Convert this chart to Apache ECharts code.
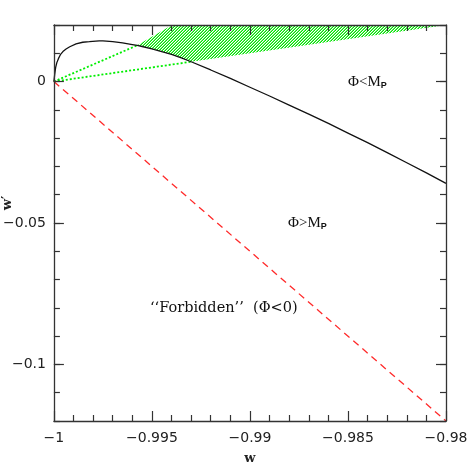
<!DOCTYPE html>
<html>
<head>
<meta charset="utf-8">
<script src="https://cdn.jsdelivr.net/npm/echarts@6/dist/echarts.min.js"></script>
<style>
  html, body { margin: 0; padding: 0; background: #fff; }
  #main { width: 471px; height: 471px; }
</style>
</head>
<body>
<div id="main"></div>
<script>
// w' vs w curve
const curveW = [-1, -0.99996, -0.99991, -0.99985, -0.99977, -0.99967, -0.99954, -0.99938, -0.99919, -0.99887,
  -0.99853, -0.99819, -0.99769, -0.9975, -0.997, -0.9965, -0.996, -0.99575, -0.9955, -0.995, -0.9945, -0.994,
  -0.9935, -0.993, -0.992, -0.991, -0.99, -0.989, -0.988, -0.987, -0.986, -0.985, -0.984, -0.983, -0.982, -0.981, -0.98]
const curveWp = [0, 0.0025, 0.005, 0.0067, 0.0081, 0.0095, 0.0106, 0.0115, 0.0123, 0.0133,
  0.0139, 0.0141, 0.0144, 0.0144, 0.0141, 0.0137, 0.0131, 0.0128, 0.0124, 0.0116, 0.0106, 0.0096,
  0.0084, 0.007, 0.0041, 0.0011, -0.002, -0.0051, -0.0083, -0.0115, -0.0148, -0.0182, -0.0216, -0.0251, -0.0287, -0.0323, -0.036]

// forbidden boundary (red dashed)
const redW = [-1, -0.98]
const redWp = [0, -0.12]

// green dotted lines from the origin
const dotLowW = [-1, -0.993]
const dotLowWp = [0, 0.007]
const dotHighW = [-1, -0.99575]
const dotHighWp = [0, 0.0128]

// hatched region outline
const hatchW = [-0.99575, -0.99397, -0.98, -0.993, -0.9935, -0.994, -0.9945, -0.995, -0.9955]
const hatchWp = [0.0128, 0.02, 0.02, 0.007, 0.0084, 0.0096, 0.0106, 0.0116, 0.0124]

// axis ticks
const xMin = -1, xMax = -0.98, xStep = 0.005
const yMin = -0.12, yMax = 0.02, yStep = 0.01
const yMajor = [0, -0.05, -0.1]

const pair = (a, b) => a.map((v, i) => [v, b[i]])

// hatch pattern
const pat = document.createElement('canvas')
pat.width = 3
pat.height = 3
const pctx = pat.getContext('2d')
for (let x = 0; x < 3; x++) {
  for (let y = 0; y < 3; y++) {
    const k = (x + y) % 3
    if (k === 2) { pctx.fillStyle = '#00e000'; pctx.fillRect(x, y, 1, 1) }
    if (k === 1) { pctx.fillStyle = '#70f070'; pctx.fillRect(x, y, 1, 1) }
  }
}

const fmt = v => {
  const n = Number(v.toFixed(4))
  return n === 0 ? '0' : String(n).replace('-', '\u2212')
}

const tickFont = { fontFamily: 'DejaVu Sans', fontSize: 14, color: '#222' }
const axisCol = '#333'

const xBase = {
  type: 'value', min: xMin, max: xMax, interval: xStep,
  axisLine: { show: true, onZero: false, lineStyle: { color: axisCol, width: 1.3 } },
  axisTick: { show: true, inside: true, length: 10, lineStyle: { color: axisCol, width: 1.2 } },
  minorTick: { show: true, splitNumber: 5, length: 6, lineStyle: { color: axisCol, width: 1.2 } },
  splitLine: { show: false },
  z: 10
}
const yBase = {
  type: 'value', min: yMin, max: yMax, interval: yStep,
  axisLine: { show: true, onZero: false, lineStyle: { color: axisCol, width: 1.3 } },
  axisTick: { show: true, inside: true, length: 6, lineStyle: { color: axisCol, width: 1.2 } },
  splitLine: { show: false },
  z: 10
}
const yLong = {
  type: 'value', min: yMin, max: yMax, interval: yStep,
  axisLine: { show: false },
  axisTick: { show: true, inside: true, length: 10, customValues: yMajor, lineStyle: { color: axisCol, width: 1.2 } },
  axisLabel: { show: false },
  splitLine: { show: false },
  z: 10
}

const subRich = {
  n: { fontFamily: 'Liberation Serif', fontSize: 15, fill: '#111' },
  s: { fontFamily: 'Liberation Sans', fontSize: 9, fontWeight: 'bold', fill: '#111', padding: [8, 0, 0, 0] }
}

const option = {
  animation: false,
  grid: { left: 51, right: 25, top: 25, bottom: 50 },
  xAxis: [
    Object.assign({}, xBase, {
      position: 'bottom',
      axisLabel: Object.assign({ formatter: fmt, margin: 10 }, tickFont),
      name: 'w', nameLocation: 'middle', nameGap: 31,
      nameTextStyle: { fontFamily: 'DejaVu Serif', fontSize: 13, fontWeight: 'bold', color: '#222' }
    }),
    Object.assign({}, xBase, { position: 'top', axisLabel: { show: false } })
  ],
  yAxis: [
    Object.assign({}, yBase, {
      position: 'left',
      axisLabel: Object.assign({ formatter: fmt, customValues: yMajor, margin: 8 }, tickFont)
    }),
    Object.assign({}, yBase, { position: 'right', axisLabel: { show: false } }),
    Object.assign({}, yLong, { position: 'left' }),
    Object.assign({}, yLong, { position: 'right' })
  ],
  graphic: [
    {
      type: 'text', x: 8, y: 203, rotation: Math.PI / 2,
      style: { text: 'w\u2032', fontFamily: 'DejaVu Serif', fontSize: 13, fontWeight: 'bold', fill: '#222', align: 'center', verticalAlign: 'middle' }
    },
    {
      type: 'text', x: 348, y: 82,
      style: { text: '{n|\u03A6<M}{s|P}', verticalAlign: 'middle', rich: subRich }
    },
    {
      type: 'text', x: 288, y: 223,
      style: { text: '{n|\u03A6>M}{s|P}', verticalAlign: 'middle', rich: subRich }
    },
    {
      type: 'text', x: 150, y: 308,
      style: { text: '\u2018\u2018Forbidden\u2019\u2019  (\u03A6<0)', fontFamily: 'DejaVu Serif', fontSize: 14.5, fill: '#111', verticalAlign: 'middle' }
    }
  ],
  series: [
    {
      type: 'custom',
      coordinateSystem: 'cartesian2d',
      data: [0],
      silent: true,
      z: 1,
      renderItem: (params, api) => {
        const pts = pair(hatchW, hatchWp).map(p => api.coord(p))
        return {
          type: 'polygon',
          shape: { points: pts },
          style: { fill: { image: pat, repeat: 'repeat' }, stroke: null }
        }
      }
    },
    {
      type: 'line', data: pair(dotLowW, dotLowWp), symbol: 'none', z: 2,
      lineStyle: { color: '#00ee00', width: 1.8, type: [2, 2] }
    },
    {
      type: 'line', data: pair(dotHighW, dotHighWp), symbol: 'none', z: 2,
      lineStyle: { color: '#00ee00', width: 1.8, type: [2, 2] }
    },
    {
      type: 'line', data: pair(redW, redWp), symbol: 'none', z: 3,
      lineStyle: { color: '#ff2a2a', width: 1.3, type: [7, 5] }
    },
    {
      type: 'line', data: pair(curveW, curveWp), symbol: 'none', z: 4,
      lineStyle: { color: '#111', width: 1.3 }
    }
  ]
}

const myChart = echarts.init(document.getElementById('main'))
myChart.setOption(option)
</script>
</body>
</html>
